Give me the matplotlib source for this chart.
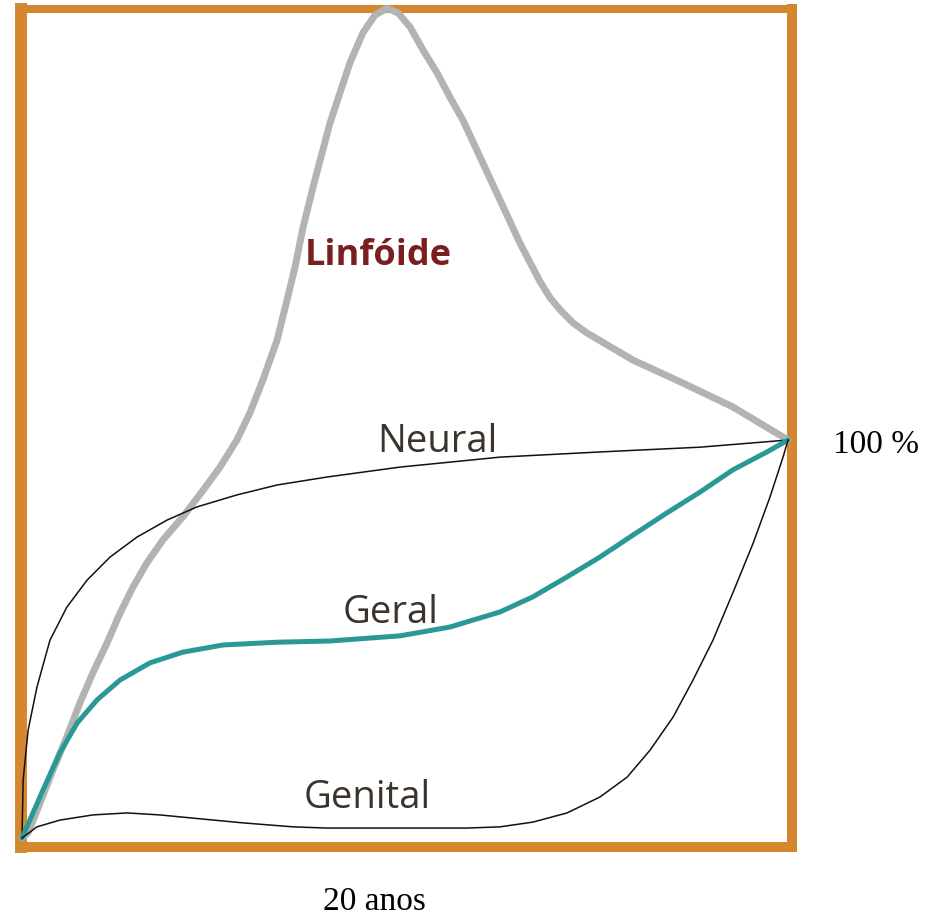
import matplotlib
matplotlib.use("Agg")
from matplotlib import pyplot as plt

# idade (anos) e tamanho relativo (% do adulto aos 20 anos)
linf_x = [0, 0.16, 0.47, 0.81, 1.17, 1.51, 1.85, 2.22, 2.56, 2.90, 3.26, 3.68, 4.20, 4.73,
          5.17, 5.61, 5.95, 6.29, 6.66, 6.92, 7.13, 7.34, 7.60, 8.04, 8.30, 8.56, 8.90,
          9.22, 9.53, 9.82, 10.13, 10.47, 10.84, 11.17, 11.51, 11.96, 12.48, 13.0, 13.52,
          13.79, 14.05, 14.39, 14.75, 15.95, 17.26, 18.56, 20]
linf_y = [0, 1.3, 8.8, 17.1, 25.4, 33.9, 41.5, 49.0, 56.5, 63.1, 69.1, 74.9, 80.7, 87.4,
          93.2, 100.0, 106.8, 115.1, 125.1, 135.2, 143.5, 153.5, 163.6, 179.6, 187.2, 194.7, 202.3,
          206.8, 208.5, 207.3, 203.8, 198.0, 192.2, 186.2, 180.4, 171.1, 160.3, 149.5, 139.9,
          135.7, 132.7, 129.4, 126.9, 120.1, 114.3, 108.3, 100]

neural_x = [0, 0.03, 0.16, 0.39, 0.73, 1.17, 1.70, 2.30, 3.00, 3.79, 4.57, 5.61, 6.66,
            7.96, 9.87, 12.48, 15.09, 17.70, 20]
neural_y = [0, 14.6, 27.1, 37.9, 49.7, 58.0, 64.8, 70.6, 75.6, 79.9, 83.2, 86.2, 88.7,
            90.7, 93.2, 95.7, 97.0, 98.2, 100]

geral_x = [0, 0.55, 0.99, 1.44, 1.96, 2.56, 3.34, 4.20, 5.25, 6.66, 8.04, 9.87, 11.17,
           12.48, 13.34, 14.23, 15.09, 15.95, 16.84, 17.70, 18.56, 19.45, 20]
geral_y = [0, 12.1, 21.4, 28.9, 34.7, 39.7, 44.0, 46.7, 48.5, 49.2, 49.5, 50.8, 53.0,
           56.8, 60.6, 65.6, 70.6, 76.1, 81.7, 86.9, 92.5, 97.0, 100]

genital_x = [0, 0.39, 0.99, 1.85, 2.74, 3.60, 4.46, 5.77, 7.08, 7.96, 9.87, 11.62, 12.48,
             13.34, 14.23, 15.09, 15.80, 16.40, 17.00, 17.52, 18.04, 18.56, 19.09, 19.53,
             19.87, 20]
genital_y = [0, 2.8, 4.5, 5.8, 6.3, 5.8, 5.0, 3.8, 2.8, 2.5, 2.5, 2.5, 2.8,
             4.0, 6.3, 10.3, 15.3, 22.1, 30.4, 39.7, 49.7, 61.6, 74.1, 85.7,
             95.7, 100]

fig = plt.figure(figsize=(9.3, 9.18), dpi=100)
ax = fig.add_axes([21 / 930, 71 / 918, 771 / 930, 838 / 918])
ax.set_xlim(-0.026, 20.104)
ax.set_ylim(-2.26, 208.3)
ax.set_xticks([])
ax.set_yticks([])

orange = "#d5872f"
for side, w in [("left", 8.6), ("right", 7.2), ("top", 5.8), ("bottom", 7.2)]:
    ax.spines[side].set_color(orange)
    ax.spines[side].set_linewidth(w)
    ax.spines[side].set_zorder(1)

ax.plot(linf_x, linf_y, color="#b3b3b3", lw=5.0, solid_capstyle="round",
        solid_joinstyle="round", zorder=3, clip_on=False)
ax.plot(neural_x, neural_y, color="#111111", lw=1.1, zorder=4, clip_on=False)
ax.plot(geral_x, geral_y, color="#2a9996", lw=3.6, solid_capstyle="round",
        solid_joinstyle="round", zorder=4, clip_on=False)
ax.plot(genital_x, genital_y, color="#111111", lw=1.1, zorder=4, clip_on=False)

lab = "#3b342c"
ax.text(7.39, 144.0, "Linfóide", color="#7a1f1f", family="Open Sans", weight="bold",
        fontsize=26, ha="left", va="baseline")
ax.text(9.28, 96.9, "Neural", color=lab, family="Open Sans", fontsize=27.5, ha="left", va="baseline")
ax.text(8.38, 54.0, "Geral", color=lab, family="Open Sans", fontsize=27.5, ha="left", va="baseline")
ax.text(7.34, 7.5, "Genital", color=lab, family="Open Sans", fontsize=27.5, ha="left", va="baseline")

ax.text(21.17, 96.7, "100 %", color="black", family="Liberation Serif", fontsize=24,
        ha="left", va="baseline")
ax.text(7.86, -18.1, "20 anos", color="black", family="Liberation Serif", fontsize=24,
        ha="left", va="baseline")

fig.savefig("out.png", dpi=100, facecolor="white")
